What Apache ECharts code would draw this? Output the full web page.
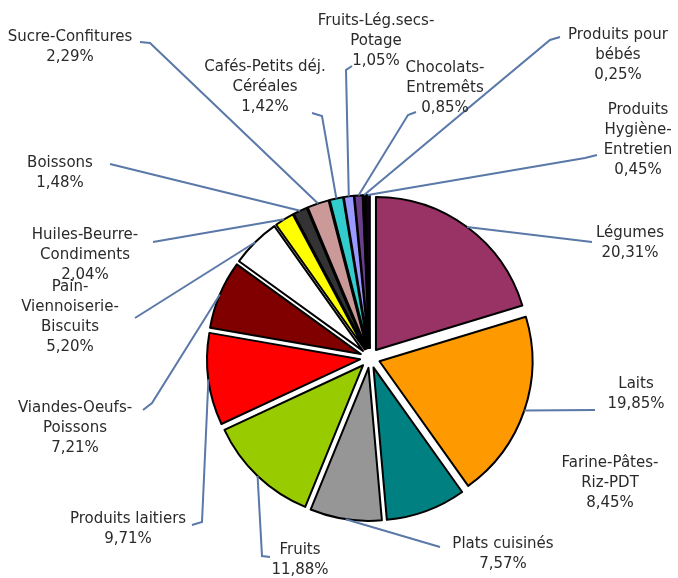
<!DOCTYPE html>
<html><head><meta charset="utf-8">
<script src="https://cdn.jsdelivr.net/npm/echarts@6/dist/echarts.min.js"></script>
<style>html,body{margin:0;padding:0;background:#fff}#c{width:678px;height:578px}</style>
</head><body><div id="c"></div>
<script>
const categories = ["Légumes","Laits","Farine-Pâtes-Riz-PDT","Plats cuisinés","Fruits","Produits laitiers","Viandes-Oeufs-Poissons","Pain-Viennoiserie-Biscuits","Huiles-Beurre-Condiments","Boissons","Sucre-Confitures","Cafés-Petits déj. Céréales","Fruits-Lég.secs-Potage","Chocolats-Entremêts","Produits pour bébés","Produits Hygiène-Entretien"];
const values = [20.31,19.85,8.45,7.57,11.88,9.71,7.21,5.20,2.04,1.48,2.29,1.42,1.05,0.85,0.25,0.45];
const labelTexts = ["Légumes","Laits","Farine-Pâtes-\nRiz-PDT","Plats cuisinés","Fruits","Produits laitiers","Viandes-Oeufs-\nPoissons","Pain-\nViennoiserie-\nBiscuits","Huiles-Beurre-\nCondiments","Boissons","Sucre-Confitures","Cafés-Petits déj.\nCéréales","Fruits-Lég.secs-\nPotage","Chocolats-\nEntremêts","Produits pour\nbébés","Produits\nHygiène-\nEntretien"];

// styles
const colors = ["#993366","#FF9900","#008080","#969696","#99CC00","#FF0000","#800000","#FFFFFF","#FFFF00","#333333","#CC9999","#33CCCC","#9999FF","#6B3F8A","#000000","#140014"];
// label layout: [center x, top y]
const labelAnchors = [[630,223],[636,374],[610,453],[503,534],[300,540],[128,509],[75,398],[70,277],[85,225],[60,153],[70,27],[265,57],[376,11],[445,58],[618,25],[638,100]];
const leaderEnds = [
  [[592,242]],
  [[595,410]],
  null,
  [[440,547]],
  [[262,556],[270,557]],
  [[202,522],[192,525]],
  [[152,403],[143,410]],
  [[135,318]],
  [[153,242]],
  [[110,164]],
  [[150,43],[140,42]],
  [[322,116],[312,113]],
  [[346,70],[352,66]],
  [[408,115],[416,112]],
  [[550,40],[560,37]],
  [[585,158],[597,155]]
];

const CENTER = [370,358], R = 153, EXPLODE = 10;
const fmt = v => v.toFixed(2).replace('.', ',') + '%';
const chart = echarts.init(document.getElementById('c'), null, {renderer:'canvas'});
chart.setOption({
  animation:false,
  backgroundColor:'#fff',
  series:[{
    // exploded slices
    type:'pie', center:CENTER, radius:R, startAngle:90, clockwise:true,
    selectedMode:'multiple', selectedOffset:EXPLODE,
    silent:true, z:2,
    itemStyle:{borderColor:'#000', borderWidth:2},
    label:{show:false}, labelLine:{show:false},
    emphasis:{disabled:true},
    data: categories.map((n,i)=>({name:n, value:values[i], selected:true, itemStyle:{color:colors[i]}}))
  },{
    // label carrier (same data, radius at exploded edge)
    type:'pie', center:CENTER, radius:R+EXPLODE, startAngle:90, clockwise:true,
    silent:true, z:3, avoidLabelOverlap:false,
    itemStyle:{color:'rgba(0,0,0,0)', borderWidth:0},
    label:{show:true, position:'outside', formatter: p => labelTexts[p.dataIndex] + '\n' + fmt(p.value),
      fontFamily:'DejaVu Sans', fontSize:15, lineHeight:20, color:'#2a2a2a', align:'center'},
    labelLine:{show:true, lineStyle:{color:'#5a78a8', width:2}},
    labelLayout: function(p){
      const i = p.dataIndex;
      const a = labelAnchors[i];
      const out = {x:a[0], y:a[1], align:'center', verticalAlign:'top'};
      const ends = leaderEnds[i];
      if (ends && p.labelLinePoints) out.labelLinePoints = [p.labelLinePoints[0]].concat(ends);
      return out;
    },
    emphasis:{disabled:true},
    data: categories.map((n,i)=>({name:n, value:values[i],
      labelLine: leaderEnds[i] ? {show:true} : {show:false}}))
  }]
});
</script></body></html>
